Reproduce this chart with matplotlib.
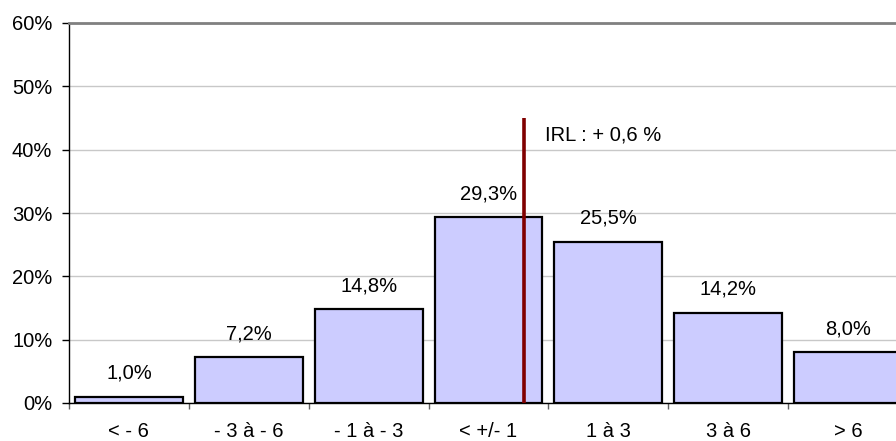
import matplotlib
matplotlib.use('Agg')
import matplotlib.pyplot as plt
import numpy as np

# données
categories = ['< - 6', '- 3 à - 6', '- 1 à - 3', '< +/- 1', '1 à 3', '3 à 6', '> 6']
values = [1.0, 7.2, 14.8, 29.3, 25.5, 14.2, 8.0]
irl_value = 0.6      # IRL en %
irl_top = 45         # hauteur du trait rouge (%)
irl_label = 'IRL : + 0,6 %'
y_ticks = [0, 10, 20, 30, 40, 50, 60]

plt.rcParams['font.family'] = ['Liberation Sans', 'DejaVu Sans']
plt.rcParams['font.size'] = 14.5

fig = plt.figure(figsize=(8.96, 4.41), dpi=100)
ax = fig.add_axes([69 / 896, 1 - 403 / 441, 839 / 896, 380 / 441])

x = np.arange(len(categories))
ax.bar(x, values, width=0.9, color='#CCCCFF', edgecolor='black', linewidth=1.6, zorder=3)

for xi, v in zip(x, values):
    ax.annotate(f'{v:.1f}%'.replace('.', ','), (xi, v), xytext=(0, 17), textcoords='offset points',
                ha='center', va='center', zorder=4)

# IRL : la catégorie "< +/- 1" couvre -1..1
irl_x = 3 + irl_value / 2
ax.plot([irl_x, irl_x], [0, irl_top], color='#800000', linewidth=2.6, zorder=5, solid_capstyle='butt')
ax.text(irl_x + 0.17, 42.3, irl_label, ha='left', va='center', zorder=5)

ax.set_xlim(-0.5, len(categories) - 0.5)
ax.set_ylim(0, 60)
ax.set_yticks(y_ticks)
ax.set_yticklabels([f'{t}%' for t in y_ticks])
ax.yaxis.grid(True, color='#C8C8C8', linewidth=1, zorder=0)
ax.set_axisbelow(True)

ax.set_xticks(x)
ax.set_xticklabels(categories)
ax.set_xticks(np.arange(-0.5, len(categories)), minor=True)
ax.tick_params(axis='x', which='major', length=0, pad=14)
ax.tick_params(axis='x', which='minor', length=4, width=1, color='#606060')
ax.tick_params(axis='y', length=5, width=1, pad=7)

ax.spines['right'].set_visible(False)
ax.spines['top'].set_color('#808080')
ax.spines['top'].set_linewidth(2)
ax.spines['left'].set_linewidth(1)
ax.spines['bottom'].set_linewidth(1)

fig.savefig('out.png', dpi=100)
